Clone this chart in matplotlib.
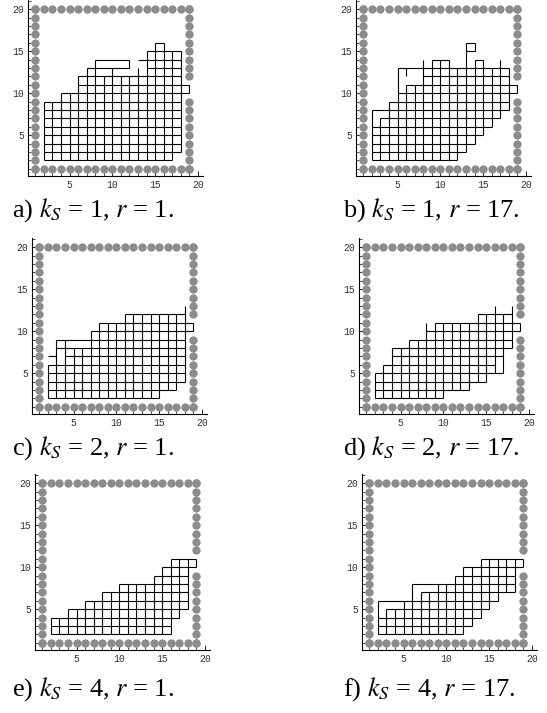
import matplotlib.pyplot as plt

plt.rcParams['mathtext.fontset'] = 'stix'

# wall cells, same in every panel
wall_x = list(range(1, 20))                              # rows y=1 and y=20
wall_left_y = list(range(1, 21))                         # column x=1
wall_right_y = list(range(1, 10)) + list(range(12, 21))  # column x=19, door at 10-11

captions = [r"a) $k_S$ = 1, $r$ = 1.", r"b) $k_S$ = 1, $r$ = 17.",
            r"c) $k_S$ = 2, $r$ = 1.", r"d) $k_S$ = 2, $r$ = 17.",
            r"e) $k_S$ = 4, $r$ = 1.", r"f) $k_S$ = 4, $r$ = 17."]

# horizontal edges (y, x0, x1) and vertical edges (x, y0, y1)
a_h = [(2, 2, 17), (3, 2, 18), (4, 2, 18), (5, 2, 18), (6, 2, 18), (7, 2, 18),
       (8, 2, 18), (9, 2, 18), (10, 4, 19), (11, 6, 19), (12, 6, 18),
       (13, 7, 12), (13, 14, 18), (14, 8, 12), (14, 13, 18), (15, 14, 18), (16, 15, 16)]
a_v = [(2, 2, 9), (3, 2, 9), (4, 2, 10), (5, 2, 10), (6, 2, 12), (7, 2, 13),
       (8, 2, 14), (9, 2, 12), (10, 2, 13), (11, 2, 12), (12, 2, 12), (12, 13, 14),
       (13, 2, 13), (14, 2, 15), (15, 2, 16), (16, 2, 16), (17, 2, 15), (18, 3, 15),
       (19, 10, 11)]

b_h = [(2, 2, 12), (3, 2, 13), (4, 2, 14), (5, 2, 15), (6, 2, 16), (7, 3, 17),
       (8, 2, 18), (9, 4, 18), (10, 5, 19), (11, 6, 19), (12, 8, 18), (13, 5, 18),
       (14, 9, 11), (14, 14, 15), (15, 13, 14), (16, 13, 14)]
b_v = [(2, 2, 8), (3, 2, 7), (4, 2, 9), (5, 2, 13), (6, 2, 11), (6, 12, 13), (7, 2, 11),
       (8, 2, 14), (9, 2, 14), (10, 2, 14), (11, 2, 14), (12, 2, 13),
       (13, 3, 16), (14, 4, 14), (14, 15, 16), (15, 5, 14), (16, 6, 13), (17, 7, 14),
       (18, 8, 13), (19, 10, 11)]

c_h = [(2, 2, 15), (3, 2, 17), (4, 2, 18), (5, 2, 18), (6, 2, 18), (7, 2, 3),
       (7, 4, 18), (8, 3, 18), (9, 3, 7), (9, 7, 18), (10, 7, 19), (11, 8, 19),
       (12, 11, 18)]
c_v = [(2, 2, 6), (3, 2, 9), (4, 2, 9), (5, 2, 8), (6, 2, 8), (7, 2, 10),
       (8, 2, 11), (9, 2, 11), (10, 2, 11), (11, 2, 12), (12, 2, 12), (13, 2, 12),
       (14, 2, 12), (15, 2, 12), (16, 3, 12), (17, 3, 12), (18, 4, 13), (19, 10, 11)]

d_h = [(2, 2, 10), (3, 2, 13), (4, 2, 15), (5, 2, 17), (6, 3, 16), (7, 4, 17),
       (8, 4, 18), (9, 6, 18), (10, 8, 19), (11, 9, 19), (12, 14, 18)]
d_v = [(2, 2, 5), (3, 2, 6), (4, 2, 8), (5, 2, 8), (6, 2, 9), (7, 2, 9),
       (8, 2, 11), (9, 2, 11), (10, 2, 11), (11, 3, 11), (12, 3, 11), (13, 3, 11),
       (14, 4, 12), (15, 4, 12), (16, 5, 13), (17, 5, 12), (18, 8, 13), (19, 10, 11)]

e_h = [(2, 2, 16), (3, 2, 16), (4, 2, 17), (5, 4, 18), (6, 6, 18), (7, 8, 18),
       (8, 10, 18), (9, 14, 18), (10, 15, 19), (11, 16, 19)]
e_v = [(2, 2, 4), (3, 2, 4), (4, 2, 5), (5, 2, 5), (6, 2, 6), (7, 2, 6),
       (8, 2, 7), (9, 2, 7), (10, 2, 8), (11, 2, 8), (12, 2, 8), (13, 2, 8),
       (14, 2, 9), (15, 2, 10), (16, 2, 11), (17, 4, 11), (18, 5, 11), (19, 10, 11)]

f_h = [(2, 2, 12), (3, 2, 13), (4, 2, 14), (5, 3, 15), (6, 2, 16), (7, 7, 18),
       (8, 6, 18), (9, 11, 18), (10, 12, 19), (11, 14, 19)]
f_v = [(2, 2, 6), (3, 2, 5), (4, 2, 5), (5, 2, 6), (6, 2, 8), (7, 2, 7),
       (8, 2, 7), (9, 2, 8), (10, 2, 8), (11, 2, 9), (12, 2, 10), (13, 3, 10),
       (14, 4, 11), (15, 5, 11), (16, 6, 11), (17, 7, 11), (18, 7, 11), (19, 10, 11)]

panels = [(a_h, a_v), (b_h, b_v), (c_h, c_v), (d_h, d_v), (e_h, e_v), (f_h, f_v)]

W, H = 547, 713
fig = plt.figure(figsize=(W / 100, H / 100), dpi=100)

# axes placement in pixels (left edge, top edge)
lefts = [28, 356, 32, 359, 35, 362]
tops = [0, 0, 238, 238, 474, 474]
ax_w, ax_h = 175, 176
cap_x = [12, 343, 12, 343, 12, 343]
cap_y = [210, 210, 448, 448, 689, 689]
dot = '#8c8c8c'

for i, (hs, vs) in enumerate(panels):
    ax = fig.add_axes([lefts[i] / W, 1 - (tops[i] + ax_h) / H, ax_w / W, ax_h / H])
    ax.scatter(wall_x, [1] * len(wall_x), s=36, color=dot, lw=0, zorder=3)
    ax.scatter(wall_x, [20] * len(wall_x), s=36, color=dot, lw=0, zorder=3)
    ax.scatter([1] * len(wall_left_y), wall_left_y, s=36, color=dot, lw=0, zorder=3)
    ax.scatter([19] * len(wall_right_y), wall_right_y, s=36, color=dot, lw=0, zorder=3)

    ax.hlines([h[0] for h in hs], [h[1] for h in hs], [h[2] for h in hs],
              color='black', lw=0.8)
    ax.vlines([v[0] for v in vs], [v[1] for v in vs], [v[2] for v in vs],
              color='black', lw=0.8)

    ax.set_xlim(0.15, 20.6)
    ax.set_ylim(0.15, 21.1)
    for s in ['top', 'right']:
        ax.spines[s].set_visible(False)
    for s in ['left', 'bottom']:
        ax.spines[s].set_linewidth(0.8)
    ax.set_xticks([5, 10, 15, 20])
    ax.set_yticks([5, 10, 15, 20])
    ax.set_xticks(range(1, 21), minor=True)
    ax.set_yticks(range(1, 22), minor=True)
    ax.tick_params(which='major', direction='in', length=3.5, width=0.6,
                   labelsize=7, pad=3, labelcolor='#333333')
    ax.tick_params(which='minor', direction='in', length=2, width=0.5)
    for lab in ax.get_xticklabels() + ax.get_yticklabels():
        lab.set_family('Liberation Mono')

    fig.text(cap_x[i] / W, 1 - cap_y[i] / H, captions[i], fontsize=19,
             family='Liberation Serif', va='center', ha='left')

fig.savefig('out.png', dpi=100)
